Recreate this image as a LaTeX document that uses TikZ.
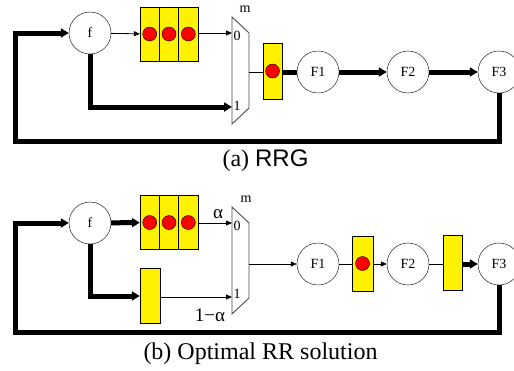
\documentclass[tikz,border=0pt]{standalone}
\usepackage{fontspec}
\setmainfont{Liberation Serif}
\newfontfamily\timesf{Liberation Serif}
\newfontfamily\capsans{Liberation Sans}
\usetikzlibrary{arrows.meta, positioning}

\begin{document}
\begin{tikzpicture}[
    x=1pt, y=-1pt,
    fn/.style={draw, circle, minimum size=42pt, inner sep=0pt, fill=white,
               font=\timesf\fontsize{14}{14}\selectfont},
    cell/.style={draw, fill=yellow, minimum width=19.3pt, minimum height=54pt,
                 inner sep=0pt},
    regbox/.style={draw, fill=yellow, minimum width=20pt, minimum height=55pt,
                   inner sep=0pt},
    token/.style={draw, circle, fill=red, minimum size=14pt, inner sep=0pt},
    mux/.style={draw=black!70, line width=0.9pt},
    lbl/.style={inner sep=0pt, font=\timesf\fontsize{14}{14}\selectfont},
    wlbl/.style={inner sep=0pt, font=\timesf\fontsize{19}{19}\selectfont},
    thin/.style={line width=0.8pt},
    thinarr/.style={-{Triangle[length=6pt, width=5pt]}, line width=0.8pt},
    thick5/.style={line width=5pt},
    thickarr/.style={-{Triangle[length=8pt, width=9pt]}, line width=5pt},
    captext/.style={inner sep=0pt, font=\timesf\fontsize{24}{28}\selectfont}
]
    \clip (0,0) rectangle (514,370);

    % ── (a) RRG ──
    \node[fn] (fa) at (90,33) {f};
    \node[cell] (qa1) at (149.7,34) {};
    \node[cell] (qa2) at (169,34) {};
    \node[cell] (qa3) at (188.3,34) {};
    \node[token] at (qa1) {};
    \node[token] at (qa2) {};
    \node[token] at (qa3) {};

    \draw[mux] (232,17) -- (249,33) -- (249,108) -- (232,124) -- cycle;
    \coordinate (muxa0) at (232,33);
    \coordinate (muxa1) at (232,107);
    \coordinate (muxaout) at (249,72);
    \node[lbl] (ma) at (245,9) {m};
    \node[lbl, anchor=west] at (233.5,36) {0};
    \node[lbl, anchor=west] at (233.5,106) {1};

    \node[regbox, minimum width=19pt, minimum height=56pt] (ra) at (272.5,71) {};
    \node[token] at (ra) {};

    \node[fn] (F1a) at (318,72) {F1};
    \node[fn] (F2a) at (408,72) {F2};
    \node[fn] (F3a) at (499,72) {F3};

    \draw[thinarr] (fa) -- (qa1);
    \draw[thinarr] (qa3.east |- fa) -- (muxa0);
    \draw[thickarr] (fa.south) |- (muxa1);
    \draw[thin] (muxaout) -- (ra.west |- muxaout);
    \draw[thick5] (ra.east |- F1a) -- (F1a);
    \draw[thickarr] (F1a) -- (F2a);
    \draw[thickarr] (F2a) -- (F3a);
    \draw[thickarr] (F3a.south) -- (499,141) -- (15,141) -- (15,33) -- (fa.west);

    \node[captext] (capa) at (265.5,161) {(a) {\capsans RRG}};

    % ── (b) Optimal RR solution ──
    \node[fn] (fb) at (90,223) {f};
    \node[cell] (qb1) at (149.7,222.5) {};
    \node[cell] (qb2) at (169,222.5) {};
    \node[cell] (qb3) at (188.3,222.5) {};
    \node[token] at (qb1) {};
    \node[token] at (qb2) {};
    \node[token] at (qb3) {};
    \node[regbox] (eb) at (150,296) {};

    \draw[mux] (232,207) -- (249,223) -- (249,298) -- (232,314) -- cycle;
    \coordinate (muxb0) at (232,223);
    \coordinate (muxb1) at (232,297);
    \coordinate (muxbout) at (249,264);
    \node[lbl] (mb) at (246,199) {m};
    \node[lbl, anchor=west] at (233.5,226) {0};
    \node[lbl, anchor=west] at (233.5,294) {1};
    \node[wlbl] (alpha) at (218,214) {α};
    \node[wlbl] (nalpha) at (210,315) {1−α};

    \node[fn] (F1b) at (318,264) {F1};
    \node[regbox, minimum width=21pt] (rb) at (362.5,263.5) {};
    \node[token] at (rb) {};
    \node[fn] (F2b) at (408,264) {F2};
    \node[regbox, minimum width=19pt] (sb) at (452.5,262.5) {};
    \node[fn] (F3b) at (499,264) {F3};

    \draw[thickarr] (fb) -- (qb1);
    \draw[thinarr] (qb3.east |- fb) -- (muxb0);
    \draw[thickarr] (fb.south) |- (eb.west);
    \draw[thinarr] (eb.east |- muxb1) -- (muxb1);
    \draw[thinarr] (muxbout) -- (F1b);
    \draw[thin] (F1b) -- (rb.west |- F1b);
    \draw[thinarr] (rb.east |- F2b) -- (F2b);
    \draw[thin] (F2b) -- (sb.west |- F2b);
    \draw[thickarr] (sb.east |- F3b) -- (F3b);
    \draw[thickarr] (F3b.south) -- (499,332) -- (15,332) -- (15,223) -- (fb.west);

    \node[captext] (capb) at (260.5,354) {(b) Optimal RR solution};
\end{tikzpicture}
\end{document}
